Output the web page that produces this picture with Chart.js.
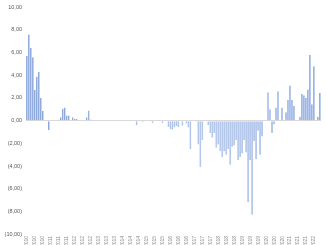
<!DOCTYPE html>
<html>
<head>
<meta charset="utf-8">
<script src="https://cdn.jsdelivr.net/npm/chart.js@4/dist/chart.umd.min.js"></script>
<style>
    html, body { margin: 0; padding: 0; background: #ffffff; overflow: hidden; }
    #wrap { position: absolute; left: 0; top: 0; width: 326px; height: 275px; }
</style>
</head>
<body>
<div id="wrap"><canvas id="varianceChart" width="326" height="275"></canvas></div>
<script>
// 월별 카테고리 (148개월)
const startYear = 2010;
const months = [];
for (let i = 0; i < 148; i++) {
    const y = startYear + Math.floor(i / 12);
    const m = (i % 12) + 1;
    months.push((m < 10 ? '0' + m : '' + m) + '/' + y);
}

// 막대 값
const values = [
    5.7, 7.6, 6.4, 5.6, 2.7, 3.9, 4.3, 2.0, 0.85, 0, 0, -0.85,
    0, 0, 0, 0, 0.1, 0.3, 1.05, 1.15, 0.45, 0.45, 0, 0.3,
    0.15, 0.15, 0, 0, 0, 0, 0.3, 0.9, 0.1, 0, 0, 0,
    0, 0, 0, 0, 0, 0, 0, 0, 0, 0, 0, 0,
    0, 0, 0, 0, 0, 0, 0, -0.4, 0, 0, -0.15, 0,
    0, 0, 0, -0.2, 0, 0, 0, 0, -0.2, 0, 0, -0.55,
    -0.75, -0.8, -0.6, -0.5, -0.55, 0, -0.45, 0, -0.25, -0.6, -2.5, 0,
    0, -0.1, -2.1, -4.1, -1.7, 0, 0, -0.4, -1.1, -1.5, -1.1, -2.4,
    -2.1, -2.7, -3.2, -2.7, -3.0, -2.5, -3.9, -2.3, -2.2, -1.7, -3.5, -3.2,
    -2.9, -1.7, -2.8, -7.2, -3.5, -8.3, -1.8, -3.4, -0.9, -3.0, -1.4, 0,
    0, 2.5, 1.0, -1.1, -0.35, 1.15, 2.6, 0, 1.15, 0, 0.75, 1.85,
    3.1, 1.85, 1.3, 0, 0, 0.35, 2.35, 2.25, 2.0, 2.75, 5.8, 1.45,
    4.8, 0, 0.35, 2.45
];

// Y축 눈금 범위
const yMin = -10;
const yMax = 10;
const yStep = 2;

// 숫자 형식: 음수는 괄호, 소수점은 쉼표
function formatTick(v) {
    const s = Math.abs(v).toFixed(2).replace('.', ',');
    return v < 0 ? '(' + s + ')' : s;
}

document.addEventListener("DOMContentLoaded", function () {
    const ctx = document.getElementById('varianceChart').getContext('2d');
    new Chart(ctx, {
        type: 'bar',
        data: {
            labels: months,
            datasets: [{
                data: values,
                backgroundColor: 'rgba(160, 185, 230, 0.85)',
                borderColor: '#7b9bd5',
                borderWidth: { left: 1, right: 0, top: 0, bottom: 0 },
                borderSkipped: false,
                barPercentage: 1.0,
                categoryPercentage: 0.9
            }]
        },
        options: {
            responsive: false,
            animation: false,
            layout: { padding: { top: 2, right: 5, left: 0, bottom: 0 } },
            plugins: {
                legend: { display: false },
                tooltip: { enabled: false }
            },
            scales: {
                x: {
                    grid: { display: false, drawTicks: false, tickLength: 0 },
                    border: { display: false },
                    ticks: {
                        autoSkip: false,
                        maxRotation: 90,
                        minRotation: 90,
                        padding: 2,
                        color: '#8c8c8c',
                        font: { family: 'Liberation Sans', size: 5 },
                        callback: function (val, index) {
                            return index % 4 === 0 ? this.getLabelForValue(val) : null;
                        }
                    },
                    afterFit: function (scale) { scale.height = 41; }
                },
                y: {
                    min: yMin,
                    max: yMax,
                    border: { display: false },
                    grid: {
                        drawTicks: false,
                        color: c => (c.tick && c.tick.value === 0) ? '#d9d9d9' : 'rgba(0,0,0,0)'
                    },
                    ticks: {
                        stepSize: yStep,
                        padding: 4,
                        color: '#595959',
                        font: { family: 'Liberation Sans', size: 5.5 },
                        callback: v => formatTick(v)
                    },
                    afterFit: function (scale) { scale.width = 26; }
                }
            }
        }
    });
});
</script>
</body>
</html>
